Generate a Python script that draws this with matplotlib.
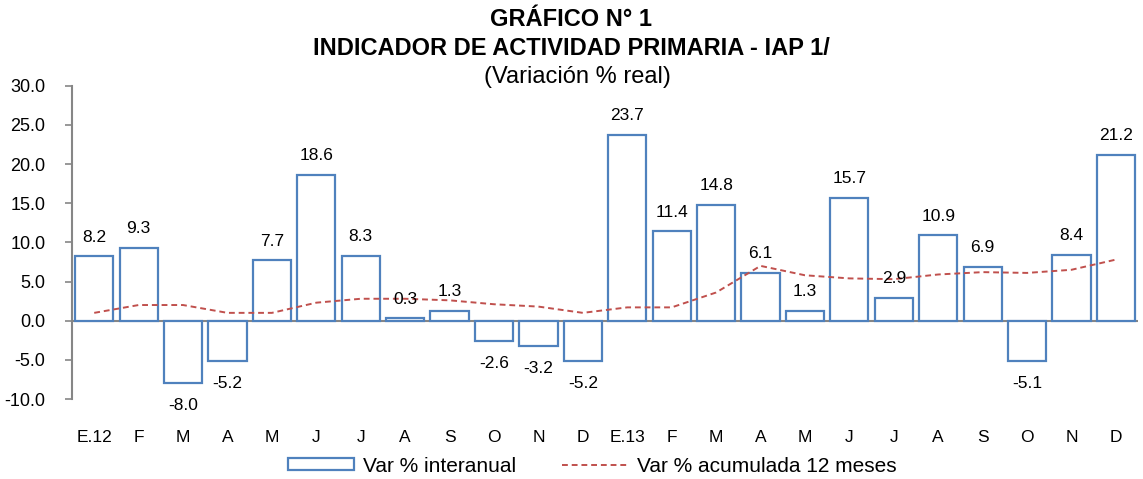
import numpy as np
import matplotlib
matplotlib.use("Agg")
import matplotlib.pyplot as plt
from matplotlib.patches import Patch
from matplotlib.lines import Line2D

plt.rcParams['font.family'] = ['Liberation Sans', 'DejaVu Sans']

meses = ['E.12', 'F', 'M', 'A', 'M', 'J', 'J', 'A', 'S', 'O', 'N', 'D',
         'E.13', 'F', 'M', 'A', 'M', 'J', 'J', 'A', 'S', 'O', 'N', 'D']
interanual = [8.2, 9.3, -8.0, -5.2, 7.7, 18.6, 8.3, 0.3, 1.3, -2.6, -3.2, -5.2,
              23.7, 11.4, 14.8, 6.1, 1.3, 15.7, 2.9, 10.9, 6.9, -5.1, 8.4, 21.2]
acumulada = [1.0, 2.0, 2.0, 1.0, 1.0, 2.3, 2.8, 2.8, 2.6, 2.1, 1.8, 1.0,
             1.7, 1.7, 3.6, 7.0, 5.8, 5.4, 5.3, 5.9, 6.2, 6.1, 6.5, 7.8]

azul = '#4F81BD'
rojo = '#C0504D'
gris = '#868686'

fig = plt.figure(figsize=(11.43, 4.79), dpi=100)
ax = fig.add_axes([0.063, 0.167, 0.9327, 0.654])

x = np.arange(len(meses))
ax.bar(x, interanual, width=0.86, color='white', edgecolor=azul, linewidth=1.6, zorder=2)
ax.plot(x, acumulada, color=rojo, linestyle=(0, (3, 2)), linewidth=1.4, zorder=3)

for xi, v in zip(x, interanual):
    if v >= 0:
        ax.text(xi, v + 1.5, '%.1f' % v, ha='center', va='bottom', fontsize=12.5)
    else:
        ax.text(xi, v - 1.9, '%.1f' % v, ha='center', va='top', fontsize=12.5)

ax.axhline(0, color=gris, linewidth=1.5, zorder=1)
ax.set_xlim(-0.5, len(meses) - 0.5)
ax.set_ylim(-10, 30)
ax.set_yticks(np.arange(-10, 31, 5))
ax.set_yticklabels(['%.1f' % t for t in np.arange(-10, 31, 5)], fontsize=13)
ax.set_xticks(x)
ax.set_xticklabels(meses, fontsize=12.5)
ax.tick_params(axis='x', length=0, pad=22)
ax.tick_params(axis='y', length=5, width=1.2, color=gris, pad=14)

for s in ['top', 'right', 'bottom']:
    ax.spines[s].set_visible(False)
ax.spines['left'].set_color(gris)
ax.spines['left'].set_linewidth(1.5)

fig.text(0.5, 0.960, 'GRÁFICO N° 1', ha='center', va='center', fontsize=17, fontweight='bold')
fig.text(0.5, 0.898, 'INDICADOR DE ACTIVIDAD PRIMARIA - IAP 1/', ha='center', va='center',
         fontsize=17, fontweight='bold')
fig.text(0.505, 0.839, '(Variación % real)', ha='center', va='center', fontsize=17)

handles = [Patch(facecolor='white', edgecolor=azul, linewidth=1.6),
           Line2D([0], [0], color=rojo, linestyle=(0, (3, 2)), linewidth=1.4)]
fig.legend(handles, ['Var % interanual', 'Var % acumulada 12 meses'], loc='center',
           bbox_to_anchor=(0.518, 0.027), ncol=2, frameon=False, fontsize=15,
           handlelength=3.2, handleheight=0.5, handletextpad=0.4, columnspacing=2.2)

fig.savefig('out.png', dpi=100)
